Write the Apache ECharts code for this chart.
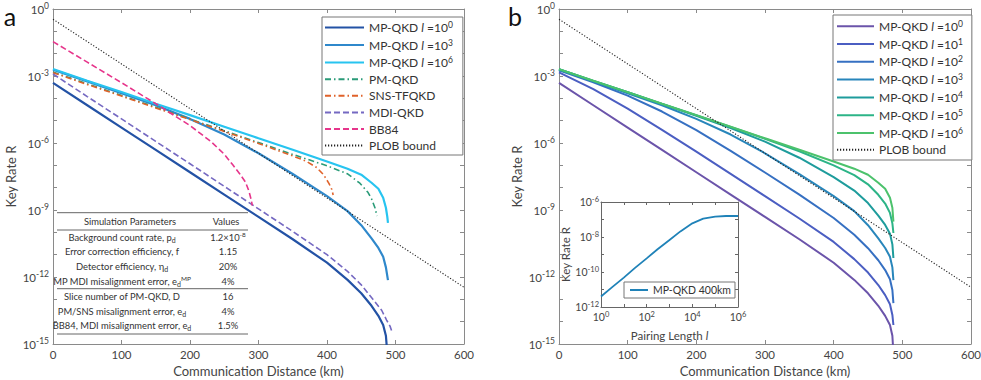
<!DOCTYPE html>
<html>
<head>
<meta charset="utf-8">
<script src="https://cdn.jsdelivr.net/npm/echarts@6/dist/echarts.min.js"></script>
<style>
  html, body { margin: 0; padding: 0; background: #fff; }
  #chart { width: 981px; height: 380px; }
</style>
</head>
<body>
<div id="chart"></div>
<script>
// values as log10(R) at a distance in km
const mpA0 = [[0,-3.31],[50,-4.31],[100,-5.31],[150,-6.31],[200,-7.31],[250,-8.31],[300,-9.31],[350,-10.31],[400,-11.36],[430,-12.13],[450,-12.73],[465,-13.29],[475,-13.74],[482,-14.15],[486,-14.63],[488,-15.4]]
const mpA3 = [[0,-2.72],[50,-3.24],[100,-3.77],[150,-4.31],[200,-4.92],[250,-5.62],[300,-6.46],[350,-7.39],[400,-8.38],[430,-9.05],[450,-9.68],[465,-10.27],[475,-10.7],[482,-11.09],[486,-11.57],[489,-12.14]]
const mpA6 = [[0,-2.69],[50,-3.21],[100,-3.72],[150,-4.24],[200,-4.75],[250,-5.27],[300,-5.79],[350,-6.3],[400,-6.83],[430,-7.15],[450,-7.42],[465,-7.78],[475,-8.05],[482,-8.45],[486,-8.9],[488,-9.3],[489,-9.58]]
const pmA = [[0,-2.82],[50,-3.35],[100,-3.87],[150,-4.4],[200,-4.93],[250,-5.45],[300,-5.98],[350,-6.51],[400,-7.02],[430,-7.38],[448,-7.8],[460,-8.22],[465,-8.5],[470,-8.9],[473,-9.27]]
const snsA = [[0,-2.85],[50,-3.38],[100,-3.9],[150,-4.43],[200,-4.95],[250,-5.48],[300,-6.02],[350,-6.58],[370,-6.82],[385,-7.1],[395,-7.42],[403,-7.82],[407,-8.08],[409,-8.33]]
const mdiA = [[0,-2.91],[50,-3.92],[100,-4.92],[150,-5.93],[200,-6.93],[250,-7.94],[300,-8.95],[350,-9.96],[400,-11.0],[430,-11.75],[450,-12.35],[467,-13.0],[480,-13.5],[487,-13.93],[492,-14.2],[495,-14.46]]
const bb84A = [[0,-1.46],[50,-2.38],[100,-3.3],[150,-4.24],[200,-5.22],[230,-5.92],[250,-6.5],[263,-7.0],[273,-7.4],[281,-7.75],[286,-8.15],[289,-8.5],[291,-8.8]]
const plob = [[0,-0.46],[100,-2.46],[200,-4.46],[300,-6.46],[400,-8.46],[500,-10.46],[600,-12.46]]

const mpB0 = [[0,-3.31],[50,-4.31],[100,-5.31],[150,-6.31],[200,-7.31],[250,-8.31],[300,-9.31],[350,-10.31],[400,-11.36],[430,-12.13],[450,-12.73],[465,-13.29],[475,-13.74],[482,-14.15],[485.5,-14.63],[487,-15.4]]
const mpB1 = [[0,-2.84],[50,-3.59],[100,-4.46],[150,-5.41],[200,-6.39],[250,-7.38],[300,-8.38],[350,-9.38],[400,-10.43],[430,-11.2],[450,-11.8],[465,-12.36],[475,-12.81],[482,-13.22],[485.5,-13.7],[487,-14.15]]
const mpB2 = [[0,-2.74],[50,-3.28],[100,-3.88],[150,-4.59],[200,-5.42],[250,-6.35],[300,-7.32],[350,-8.31],[400,-9.36],[430,-10.11],[450,-10.71],[465,-11.25],[475,-11.69],[482,-12.1],[485.5,-12.58],[487,-13.17]]
const mpB3 = [[0,-2.72],[50,-3.24],[100,-3.77],[150,-4.31],[200,-4.92],[250,-5.62],[300,-6.46],[350,-7.39],[400,-8.38],[430,-9.05],[450,-9.68],[465,-10.27],[475,-10.7],[482,-11.09],[485.5,-11.57],[487,-12.14]]
const mpB4 = [[0,-2.7],[50,-3.22],[100,-3.73],[150,-4.25],[200,-4.78],[250,-5.33],[300,-5.94],[350,-6.66],[400,-7.53],[430,-8.13],[450,-8.69],[465,-9.25],[475,-9.67],[482,-10.06],[485.5,-10.54],[487,-11.15]]
const mpB5 = [[0,-2.7],[50,-3.22],[100,-3.73],[150,-4.25],[200,-4.76],[250,-5.28],[300,-5.81],[350,-6.37],[400,-7.0],[430,-7.44],[450,-7.85],[465,-8.32],[475,-8.71],[482,-9.13],[485.5,-9.6],[487,-10.03]]
const mpB6 = [[0,-2.69],[50,-3.21],[100,-3.72],[150,-4.24],[200,-4.75],[250,-5.27],[300,-5.79],[350,-6.3],[400,-6.83],[430,-7.15],[450,-7.42],[465,-7.78],[475,-8.05],[482,-8.45],[485.5,-8.9],[487,-9.52]]

// inset: pairing length l vs log10(R) at 400 km
const pairLength = [1, 3, 10, 30, 100, 300, 1e3, 3e3, 1e4, 3e4, 1e5, 3e5, 1e6]
const inset400 = [-11.4, -10.88, -10.32, -9.78, -9.22, -8.7, -8.17, -7.68, -7.22, -6.95, -6.83, -6.8, -6.8]

const tableHead = ['Simulation Parameters', 'Values']
const tableParams = [
  '{t|Background count rate, p}{u|d}',
  '{t|Error correction efficiency, f}',
  '{t|Detector efficiency, η}{u|d}',
  '{t|MP MDI misalignment error, e}{u|d}{p|MP}',
  '{t|Slice number of PM-QKD, D}',
  '{t|PM/SNS misalignment error, e}{u|d}',
  '{t|BB84, MDI misalignment error, e}{u|d}',
]
const tableValues = ['{t|1.2×10}{p|-8}', '{t|1.15}', '{t|20%}', '{t|4%}', '{t|16}', '{t|4%}', '{t|1.5%}']

const FONT = 'Lato, "Open Sans", sans-serif'
const TXT = '#444'
const AXIS = '#8a8a8a'

const toVal = pts => pts.map(([x, e]) => [x, Math.pow(10, e)])

const supRich = (size) => ({
  b: { fontSize: size, fontFamily: FONT, color: TXT, lineHeight: size + 3 },
  s: { fontSize: size - 3, fontFamily: FONT, color: TXT, lineHeight: size - 3, verticalAlign: 'top' },
})

const powLabel = (step) => (v) => {
  const e = Math.round(Math.log10(v))
  return e % step === 0 ? `{b|10}{s|${e}}` : ''
}

const kmAxis = (grid, pos, labels) => ({
  type: 'value', gridIndex: grid, position: pos, min: 0, max: 600, interval: 100,
  axisLine: { show: true, onZero: false, lineStyle: { color: AXIS } },
  axisTick: { show: true, inside: true, length: 4, lineStyle: { color: AXIS } },
  axisLabel: { show: labels, color: TXT, fontSize: 11.5, fontFamily: FONT, margin: 4 },
  splitLine: { show: false },
  name: labels ? 'Communication Distance (km)' : '',
  nameLocation: 'middle', nameGap: 18,
  nameTextStyle: { color: TXT, fontSize: 13, fontFamily: FONT },
})

const rateAxis = (grid, pos, labels) => ({
  type: 'log', logBase: 10, gridIndex: grid, position: pos, min: 1e-15, max: 1,
  splitNumber: 15, interval: 1,
  axisLine: { show: true, onZero: false, lineStyle: { color: AXIS } },
  axisTick: { show: true, inside: true, length: 4, lineStyle: { color: AXIS } },
  axisLabel: { show: labels, formatter: powLabel(3), rich: supRich(11.5), margin: 4 },
  splitLine: { show: false },
  name: labels ? 'Key Rate R' : '',
  nameLocation: 'middle', nameGap: 36,
  nameTextStyle: { color: TXT, fontSize: 13, fontFamily: FONT },
})

const pairAxis = (pos, labels) => ({
  type: 'log', logBase: 10, gridIndex: 2, position: pos, min: 1, max: 1e6,
  splitNumber: 6, interval: 1,
  axisLine: { show: true, onZero: false, lineStyle: { color: '#666' } },
  axisTick: { show: true, inside: true, length: 3, lineStyle: { color: '#666' } },
  axisLabel: { show: labels, formatter: powLabel(2), rich: supRich(10.5), margin: 3 },
  splitLine: { show: false },
  name: labels ? '{t|Pairing Length }{i|l}' : '',
  nameLocation: 'middle', nameGap: 22,
  nameTextStyle: {
    rich: {
      t: { fontSize: 11.5, fontFamily: FONT, color: TXT },
      i: { fontSize: 11.5, fontFamily: FONT, color: TXT, fontStyle: 'italic' },
    },
  },
})

const insetRateAxis = (pos, labels) => ({
  type: 'log', logBase: 10, gridIndex: 2, position: pos, min: 1e-12, max: 1e-6,
  splitNumber: 6, interval: 1,
  axisLine: { show: true, onZero: false, lineStyle: { color: '#666' } },
  axisTick: { show: true, inside: true, length: 3, lineStyle: { color: '#666' } },
  axisLabel: { show: labels, formatter: powLabel(2), rich: supRich(10.5), margin: 2 },
  splitLine: { show: false },
  name: labels ? 'Key Rate R' : '',
  nameLocation: 'middle', nameGap: 27,
  nameTextStyle: { color: TXT, fontSize: 11.5, fontFamily: FONT },
})

const line = (name, pts, axis, color, width, type) => ({
  name, type: 'line', xAxisIndex: axis, yAxisIndex: axis,
  data: toVal(pts), symbol: 'none', showSymbol: false, silent: true, clip: true,
  color, lineStyle: { color, width, type },
})

const legendRich = (size) => ({
  t: { fontSize: size, fontFamily: FONT, color: '#333', lineHeight: 14 },
  i: { fontSize: size, fontFamily: FONT, color: '#333', fontStyle: 'italic', lineHeight: 14 },
  s: { fontSize: size - 3.5, fontFamily: FONT, color: '#333', lineHeight: size - 3.5, verticalAlign: 'top' },
})

const legendLabel = (name) => {
  const n = name.slice(2)
  const m = n.match(/^MP-QKD l=10\^(\d)$/)
  if (m) return `{t|MP-QKD }{i|l}{t| =10}{s|${m[1]}}`
  return `{t|${n}}`
}

const DASH = [6, 3]
const DASHDOT = [6, 3, 1.5, 3]
const DOT = [1.2, 1.8]

const series = [
  line('a:MP-QKD l=10^0', mpA0, 0, '#2352a5', 2.2, 'solid'),
  line('a:MP-QKD l=10^3', mpA3, 0, '#2f88cb', 2.2, 'solid'),
  line('a:MP-QKD l=10^6', mpA6, 0, '#27c4f0', 2.2, 'solid'),
  line('a:PM-QKD', pmA, 0, '#2a9b78', 1.6, DASHDOT),
  line('a:SNS-TFQKD', snsA, 0, '#e0622a', 1.6, DASHDOT),
  line('a:MDI-QKD', mdiA, 0, '#7569c2', 1.6, DASH),
  line('a:BB84', bb84A, 0, '#e6358b', 1.6, DASH),
  line('a:PLOB bound', plob, 0, '#222', 1.1, DOT),

  line('b:MP-QKD l=10^0', mpB0, 2, '#6b54aa', 2, 'solid'),
  line('b:MP-QKD l=10^1', mpB1, 2, '#4b5ec2', 2, 'solid'),
  line('b:MP-QKD l=10^2', mpB2, 2, '#3670c2', 2, 'solid'),
  line('b:MP-QKD l=10^3', mpB3, 2, '#2886bb', 2, 'solid'),
  line('b:MP-QKD l=10^4', mpB4, 2, '#1e9c9c', 2, 'solid'),
  line('b:MP-QKD l=10^5', mpB5, 2, '#2cb487', 2, 'solid'),
  line('b:MP-QKD l=10^6', mpB6, 2, '#4cc26c', 2, 'solid'),
  line('b:PLOB bound', plob, 2, '#222', 1.1, DOT),

  {
    name: 'i:MP-QKD 400km', type: 'line', xAxisIndex: 4, yAxisIndex: 4,
    data: pairLength.map((l, i) => [l, Math.pow(10, inset400[i])]),
    symbol: 'none', showSymbol: false, silent: true, color: '#1f82b8',
    lineStyle: { color: '#1f82b8', width: 1.8 },
  },
]

const tableRowY = [237.3, 251.9, 266.5, 281, 296.6, 311.2, 325.8]
const tableRich = {
  t: { fontSize: 9.4, fontFamily: FONT, fill: '#333', color: '#333', lineHeight: 12 },
  u: { fontSize: 7, fontFamily: FONT, fill: '#333', color: '#333', lineHeight: 7, verticalAlign: 'bottom' },
  p: { fontSize: 6.5, fontFamily: FONT, fill: '#333', color: '#333', lineHeight: 6.5, verticalAlign: 'top' },
}
const txt = (x, y, text, extra) => ({
  type: 'text', x, y, silent: true, z: 100,
  style: Object.assign({ text, align: 'center', verticalAlign: 'middle', textAlign: 'center', textVerticalAlign: 'middle', rich: tableRich, fill: '#333' }, extra || {}),
})
const rule = (y) => ({
  type: 'line', silent: true, z: 100,
  shape: { x1: 57, y1: y, x2: 248, y2: y },
  style: { stroke: '#666', lineWidth: 1 },
})

const graphics = [
  txt(10, 16, 'a', { rich: null, fontSize: 25, fontFamily: FONT, fill: '#111' }),
  txt(515, 16, 'b', { rich: null, fontSize: 25, fontFamily: FONT, fill: '#111' }),
  rule(212.7), rule(230), rule(288.7), rule(334),
  txt(130, 221.5, `{t|${tableHead[0]}}`),
  txt(226, 221.5, `{t|${tableHead[1]}}`),
]
tableParams.forEach((p, i) => graphics.push(txt(122, tableRowY[i], p)))
tableValues.forEach((v, i) => graphics.push(txt(228, tableRowY[i], v)))

const chart = echarts.init(document.getElementById('chart'), null, { renderer: 'svg' })
chart.setOption({
  animation: false,
  backgroundColor: '#fff',
  textStyle: { fontFamily: FONT },
  grid: [
    { left: 53, top: 9, width: 411, height: 335, containLabel: false, outerBoundsMode: 'none' },
    { left: 559, top: 9, width: 412, height: 335, containLabel: false, outerBoundsMode: 'none' },
    { left: 601, top: 202, width: 137, height: 105, containLabel: false, outerBoundsMode: 'none' },
  ],
  xAxis: [
    kmAxis(0, 'bottom', true), kmAxis(0, 'top', false),
    kmAxis(1, 'bottom', true), kmAxis(1, 'top', false),
    pairAxis('bottom', true), pairAxis('top', false),
  ],
  yAxis: [
    rateAxis(0, 'left', true), rateAxis(0, 'right', false),
    rateAxis(1, 'left', true), rateAxis(1, 'right', false),
    insetRateAxis('left', true), insetRateAxis('right', false),
  ],
  legend: [
    {
      orient: 'vertical', left: 322, top: 17, itemWidth: 39, itemHeight: 14, itemGap: 4.6,
      padding: [3.4, 10, 3.4, 2], backgroundColor: '#fff', borderColor: '#777', borderWidth: 1,
      itemStyle: { opacity: 0 },
      formatter: legendLabel, textStyle: { rich: legendRich(12) }, selectedMode: false,
      data: series.filter(s => s.name.startsWith('a:')).map(s => s.name),
    },
    {
      orient: 'vertical', left: 833, top: 15, itemWidth: 37, itemHeight: 14, itemGap: 4.8,
      padding: [4.2, 9, 4.2, 3], backgroundColor: '#fff', borderColor: '#777', borderWidth: 1,
      itemStyle: { opacity: 0 },
      formatter: legendLabel, textStyle: { rich: legendRich(12) }, selectedMode: false,
      data: series.filter(s => s.name.startsWith('b:')).map(s => s.name),
    },
    {
      orient: 'vertical', left: 624, top: 282, itemWidth: 18, itemHeight: 13, itemGap: 0,
      padding: [2.5, 4, 2.5, 5], backgroundColor: '#fff', borderColor: '#777', borderWidth: 1,
      itemStyle: { opacity: 0 },
      formatter: legendLabel, textStyle: { rich: legendRich(10.5) }, selectedMode: false,
      data: ['i:MP-QKD 400km'],
    },
  ],
  graphic: graphics,
  series,
})
</script>
</body>
</html>
